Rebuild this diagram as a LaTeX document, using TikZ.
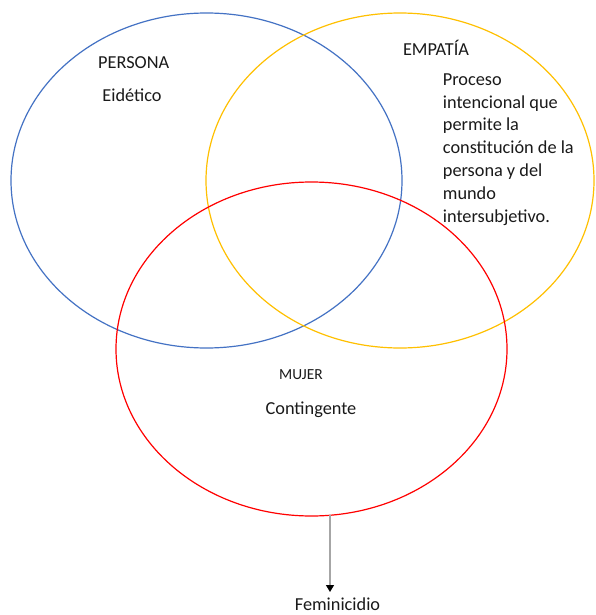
\documentclass[tikz,border=0pt]{standalone}
\usepackage{fontspec}
\setmainfont{Carlito}
\usetikzlibrary{shapes.geometric,arrows.meta}
\definecolor{vblue}{HTML}{4472C4}
\definecolor{vyellow}{HTML}{FFC000}
\definecolor{vred}{HTML}{FF0000}
\definecolor{txt}{HTML}{1A1A1A}
\tikzset{
  venn/.style={ellipse, draw, line width=1.2pt, inner sep=0pt},
  lbl/.style={anchor=base, inner sep=0pt, text=txt, font=\fontsize{18.3}{22.8}\selectfont},
  small/.style={anchor=base, inner sep=0pt, text=txt, font=\fontsize{15.4}{18}\selectfont},
  conn/.style={draw=black!35, line width=1.2pt, -{Triangle[width=8pt,length=7pt,color=black]}}
}
\begin{document}
\begin{tikzpicture}[x=1pt,y=-1pt]
\useasboundingbox[fill=white] (0,0) rectangle (595,615);
\node[venn, draw=vblue, minimum width=391pt, minimum height=335pt] (persona) at (206.5,180.5) {};
\node[venn, draw=vyellow, minimum width=388pt, minimum height=335pt] (empatia) at (400,180.5) {};
\node[venn, draw=vred, minimum width=391pt, minimum height=334pt] (mujer) at (311.5,349) {};
\node[lbl] (tpersona) at (133.7,69) {PERSONA};
\node[lbl] (teidetico) at (132,102) {Eidético};
\node[lbl] (tempatia) at (436,56) {EMPATÍA};
\node[lbl, anchor=north west, align=left] (tproceso) at (442.7,73.3) {Proceso\\intencional que\\permite la\\constitución de la\\persona y del\\mundo\\intersubjetivo.};
\node[small] (tmujer) at (301,379) {MUJER};
\node[lbl] (tcont) at (311,414) {Contingente};
\node[lbl] (tfem) at (337.5,610.5) {Feminicidio};
\coordinate (fs) at (330,515.3);
\coordinate (fe) at (330,592);
\draw[conn] (fs) -- (fe);
\end{tikzpicture}
\end{document}
